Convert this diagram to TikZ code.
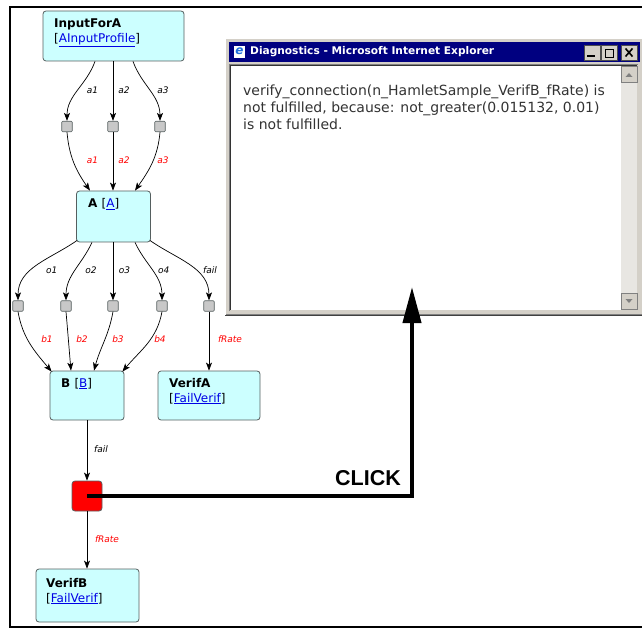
\documentclass[tikz,border=0pt]{standalone}
\usepackage{fontspec}
\setmainfont{DejaVu Sans}
\newfontfamily\clickfont{Liberation Sans}
\usetikzlibrary{arrows.meta}
\definecolor{boxfill}{RGB}{204,255,255}
\definecolor{boxline}{RGB}{85,95,95}
\definecolor{sqfill}{RGB}{200,200,200}
\definecolor{linkblue}{RGB}{0,0,230}
\definecolor{wingray}{RGB}{212,208,200}
\definecolor{titleblue}{RGB}{0,0,128}
\definecolor{midgray}{RGB}{128,128,128}
\definecolor{trackgray}{RGB}{232,230,226}
\newcommand{\lnk}[1]{{\color{linkblue}\underline{#1}}}
\begin{document}
\begin{tikzpicture}[x=1pt,y=-1pt,
  box/.style={draw=boxline, fill=boxfill, rounded corners=3pt, line width=0.8pt, inner sep=0pt},
  sq/.style={draw=boxline, fill=sqfill, minimum size=10.5pt, inner sep=0pt, line width=0.7pt, rounded corners=1pt},
  redsq/.style={draw=boxline, fill=red, minimum size=30pt, inner sep=0pt, rounded corners=3pt, line width=0.8pt},
  conn/.style={-{Stealth[length=8pt,width=6pt,inset=2pt]}, line width=0.7pt},
  lbl/.style={font=\fontsize{9}{10}\selectfont\itshape, inner sep=0pt},
  rlbl/.style={lbl, text=red},
  ntitle/.style={font=\fontsize{12}{14}\selectfont\bfseries, anchor=base west, inner sep=0pt},
  nlink/.style={font=\fontsize{12}{14}\selectfont, anchor=base west, inner sep=0pt},
  dtext/.style={font=\fontsize{14}{17}\selectfont, anchor=base west, inner sep=0pt, text=black!80},
  wbtn/.style={fill=wingray, draw=black!70, line width=0.6pt}
]
\useasboundingbox (0,0) rectangle (642,628);
% outer frame
\draw[line width=2pt] (642,7) -- (10,7) -- (10,627) -- (642,627);

% ---------- nodes ----------
\node[box, minimum width=141pt, minimum height=50pt] (inp) at (113.5,36) {};
\node[ntitle] (inpT) at (54,28) {InputForA};
\node[nlink] (inpL) at (54,42.5) {[\lnk{AInputProfile}]};

\node[sq] (s1) at (67,126.5) {};
\node[sq] (s2) at (113,126.5) {};
\node[sq] (s3) at (160,126.5) {};

\node[box, minimum width=74pt, minimum height=51pt] (A) at (113.5,216.5) {};
\node[ntitle] (AT) at (88,208) {A \mdseries[\lnk{A}]};

\node[sq] (t1) at (18,306) {};
\node[sq] (t2) at (66,306) {};
\node[sq] (t3) at (113,306) {};
\node[sq] (t4) at (162,306) {};
\node[sq] (t5) at (209,306) {};

\node[box, minimum width=74pt, minimum height=49pt] (B) at (87,395.5) {};
\node[ntitle] (BT) at (61,387) {B \mdseries[\lnk{B}]};

\node[box, minimum width=102pt, minimum height=49pt] (VA) at (209,395.5) {};
\node[ntitle] (VAT) at (169,387) {VerifA};
\node[nlink] (VAL) at (169,402) {[\lnk{FailVerif}]};

\node[redsq] (red) at (87,496) {};

\node[box, minimum width=103pt, minimum height=53pt] (VB) at (87.5,595.5) {};
\node[ntitle] (VBT) at (46,587) {VerifB};
\node[nlink] (VBL) at (46,602) {[\lnk{FailVerif}]};

% ---------- connectors row 1 ----------
\draw[conn] ([xshift=-18.5pt]inp.south) to[out=-110,in=90] (s1.north);
\draw[conn] (s2 |- inp.south) -- (s2.north);
\draw[conn] ([xshift=19.5pt]inp.south) to[out=-70,in=90] (s3.north);
\draw[conn] (s1.south) to[out=-85,in=125] ([xshift=-23.5pt]A.north);
\draw[conn] (s2.south) -- (s2 |- A.north);
\draw[conn] (s3.south) to[out=-95,in=55] ([xshift=21.5pt]A.north);

\node[lbl] (la1) at (92.5,90) {a1};
\node[lbl] (la2) at (124,90) {a2};
\node[lbl] (la3) at (163,90) {a3};
\node[rlbl] (ra1) at (92.5,160) {a1};
\node[rlbl] (ra2) at (124,160) {a2};
\node[rlbl] (ra3) at (163,160) {a3};

% ---------- connectors row 2 ----------
\draw[conn] ([xshift=1pt,yshift=2pt]A.south west) to[out=-145,in=90] (t1.north);
\draw[conn] ([xshift=-21.5pt]A.south) to[out=-115,in=90] (t2.north);
\draw[conn] (t3 |- A.south) -- (t3.north);
\draw[conn] ([xshift=21.5pt]A.south) to[out=-65,in=90] (t4.north);
\draw[conn] ([xshift=-1pt,yshift=2pt]A.south east) to[out=-35,in=90] (t5.north);

\draw[conn] (t1.south) to[out=-80,in=130] ([xshift=2pt,yshift=-1pt]B.north west);
\draw[conn] (t2.south) to[out=-85,in=95] ([xshift=-16pt]B.north);
\draw[conn] (t3.south) to[out=-100,in=75] ([xshift=7pt]B.north);
\draw[conn] (t4.south) to[out=-100,in=50] ([xshift=-2pt,yshift=-1pt]B.north east);
\draw[conn] (t5.south) -- (t5 |- VA.north);

\node[lbl] (lo1) at (51.7,270) {o1};
\node[lbl] (lo2) at (91,270) {o2};
\node[lbl] (lo3) at (124.5,270) {o3};
\node[lbl] (lo4) at (163.8,270) {o4};
\node[lbl] (lfail) at (210,270) {fail};
\node[rlbl] (rb1) at (47,339) {b1};
\node[rlbl] (rb2) at (82,339) {b2};
\node[rlbl] (rb3) at (118,339) {b3};
\node[rlbl] (rb4) at (160,339) {b4};
\node[rlbl] (rfr) at (230,339) {fRate};

% ---------- bottom ----------
\draw[conn] (B.south) -- (red.north);
\draw[conn] (red.south) -- (red |- VB.north);
\node[lbl] (lfail2) at (101,449) {fail};
\node[rlbl] (rfr2) at (107,539) {fRate};

% ---------- dialog window ----------
\fill[wingray] (225,38) rectangle (642,316);
\draw[white, line width=1pt] (225.5,316) -- (225.5,38.5) -- (642,38.5);
\draw[black!75, line width=1pt] (225,315.5) -- (642,315.5);
\draw[midgray, line width=1pt] (226,314.5) -- (642,314.5);
\fill[titleblue] (229,42) rectangle (640,62);
% IE icon
\fill[white] (233.5,46) rectangle (245,58);
\node[inner sep=0pt, font=\fontsize{12}{12}\selectfont\bfseries\itshape, text={rgb,255:red,30;green,110;blue,220}] (ieicon) at (239.5,51.5) {e};
\node[anchor=west, inner sep=0pt, text=white, font=\fontsize{10.6}{12}\selectfont\bfseries] (wtitle) at (250,52) {Diagnostics - Microsoft Internet Explorer};
% title buttons
\draw[wbtn] (584,45) rectangle (600,60);
\draw[wbtn] (601,45) rectangle (617,60);
\draw[wbtn] (621,45) rectangle (637,60);
\fill[black] (587,55.5) rectangle (595,57.5);
\draw[black, line width=0.8pt] (605,49) rectangle (613,57);
\draw[black, line width=1.6pt] (605,49.5) -- (613,49.5);
\draw[black, line width=1.6pt] (625.5,48.5) -- (632.5,56.5) (632.5,48.5) -- (625.5,56.5);
% content area
\fill[white] (230,65) rectangle (621,310);
\draw[midgray, line width=1pt] (229.5,311) -- (229.5,64.5) -- (638,64.5);
\draw[black!80, line width=1pt] (230.5,310) -- (230.5,65.5) -- (637,65.5);
% scrollbar
\fill[trackgray] (621,66) rectangle (637,310);
\draw[wbtn, draw=midgray] (621,66.5) rectangle (637,82);
\fill[midgray] (625.5,77) -- (632.5,77) -- (629,73) -- cycle;
\draw[wbtn, draw=midgray] (621,293) rectangle (637,309);
\fill[midgray] (625.5,299) -- (632.5,299) -- (629,303) -- cycle;
% dialog text
\node[dtext] (d1) at (243,95.5) {verify\_connection(n\_HamletSample\_VerifB\_fRate) is};
\node[dtext] (d2) at (243,112.5) {not fulfilled, because: not\_greater(0.015132, 0.01)};
\node[dtext] (d3) at (243,129.5) {is not fulfilled.};

% ---------- click arrow ----------
\coordinate (clicktip) at (412,287);
\draw[line width=4pt, -{Triangle[length=36pt,width=18pt]}] (red.center) -| (clicktip);
\node[anchor=base east, inner sep=0pt, font=\clickfont\fontsize{21.5}{24}\selectfont\bfseries] (click) at (401,485) {CLICK};
\end{tikzpicture}
\end{document}
